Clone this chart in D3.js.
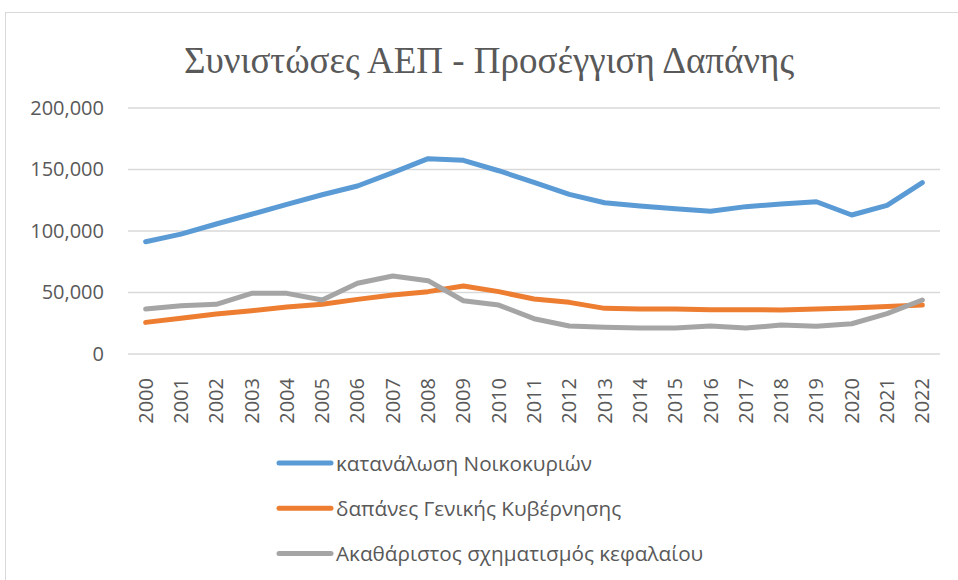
<!DOCTYPE html>
<html>
<head>
<meta charset="utf-8">
<script src="https://cdn.jsdelivr.net/npm/d3@7"></script>
<style>
  body { margin: 0; background: #fff; }
  svg text { font-family: "Open Sans", "Liberation Sans", Arial, sans-serif; fill: #595959; }
</style>
</head>
<body>
<svg id="chart" width="958" height="580"></svg>
<script>
const years = ["2000","2001","2002","2003","2004","2005","2006","2007","2008","2009","2010","2011",
               "2012","2013","2014","2015","2016","2017","2018","2019","2020","2021","2022"];
const households = [91300, 97500, 105700, 113600, 121700, 129500, 136600, 147400, 158800, 157500, 149000, 139600,
                    129800, 123000, 120300, 118100, 116000, 119800, 122000, 123800, 113000, 120900, 139300];
const government = [25700, 29000, 32500, 35200, 38200, 40400, 44400, 48000, 50700, 55300, 50700, 44700,
                    42000, 37100, 36600, 36600, 36000, 36000, 35800, 36600, 37400, 38700, 39800];
const capital = [36600, 39300, 40400, 49300, 49300, 43900, 57500, 63400, 59600, 43300, 39800, 28700,
                 22800, 21700, 21100, 21100, 22800, 21100, 23600, 22500, 24600, 32800, 43900];
const yTicks = [0, 50000, 100000, 150000, 200000];
const seriesNames = ["κατανάλωση Νοικοκυριών", "δαπάνες Γενικής Κυβέρνησης", "Ακαθάριστος σχηματισμός κεφαλαίου"];
const colors = ["#5B9BD5", "#ED7D31", "#A5A5A5"];
const series = [households, government, capital];

const svg = d3.select("#chart");

// outer chart frame
svg.append("rect")
  .attr("x", 5.5).attr("y", 12.5)
  .attr("width", 960).attr("height", 580)
  .attr("fill", "none").attr("stroke", "#D9D9D9");

svg.append("text")
  .attr("x", 489).attr("y", 73)
  .attr("text-anchor", "middle")
  .style("font-family", "'Liberation Serif', 'Times New Roman', serif")
  .style("font-size", "37px")
  .text("Συνιστώσες ΑΕΠ - Προσέγγιση Δαπάνης");

const x = d3.scaleBand().domain(years).range([128, 940]);
const y = d3.scaleLinear().domain([0, 200000]).range([354, 108]);

// gridlines
svg.append("g")
  .selectAll("line")
  .data(yTicks)
  .join("line")
  .attr("x1", 128).attr("x2", 940)
  .attr("y1", d => y(d)).attr("y2", d => y(d))
  .attr("stroke", "#D9D9D9").attr("stroke-width", 1.5);

// y axis labels
const yAxis = svg.append("g")
  .attr("transform", "translate(104,0)")
  .call(d3.axisLeft(y).tickValues(yTicks).tickSize(0).tickPadding(0)
    .tickFormat(d => d === 0 ? "0" : d3.format(",")(d)));
yAxis.select(".domain").remove();
yAxis.selectAll("text")
  .style("font-size", "20px")
  .style("fill", "#595959")
  .style("font-family", "'Open Sans', sans-serif");

// x axis labels
const xAxis = svg.append("g")
  .attr("transform", "translate(0,354)")
  .call(d3.axisBottom(x).tickSize(0).tickPadding(0));
xAxis.select(".domain").remove();
xAxis.selectAll("text")
  .attr("transform", "translate(7,24) rotate(-90)")
  .attr("y", 0)
  .attr("dy", "0")
  .style("text-anchor", "end")
  .style("font-size", "20px")
  .style("fill", "#595959")
  .style("font-family", "'Open Sans', sans-serif");

const line = d3.line()
  .x((d, i) => x(years[i]) + x.bandwidth() / 2)
  .y(d => y(d));

svg.append("g")
  .selectAll("path")
  .data(series)
  .join("path")
  .attr("d", d => line(d))
  .attr("fill", "none")
  .attr("stroke", (d, i) => colors[i])
  .attr("stroke-width", 5)
  .attr("stroke-linejoin", "round")
  .attr("stroke-linecap", "round");

// legend
const legend = svg.append("g")
  .selectAll("g")
  .data(seriesNames)
  .join("g")
  .attr("transform", (d, i) => `translate(277,${463 + i * 45.2})`);

legend.append("line")
  .attr("x1", 2).attr("x2", 54)
  .attr("stroke", (d, i) => colors[i])
  .attr("stroke-width", 5)
  .attr("stroke-linecap", "round");

legend.append("text")
  .attr("x", 59).attr("y", 8)
  .style("font-size", "20.7px")
  .text(d => d);
</script>
</body>
</html>
